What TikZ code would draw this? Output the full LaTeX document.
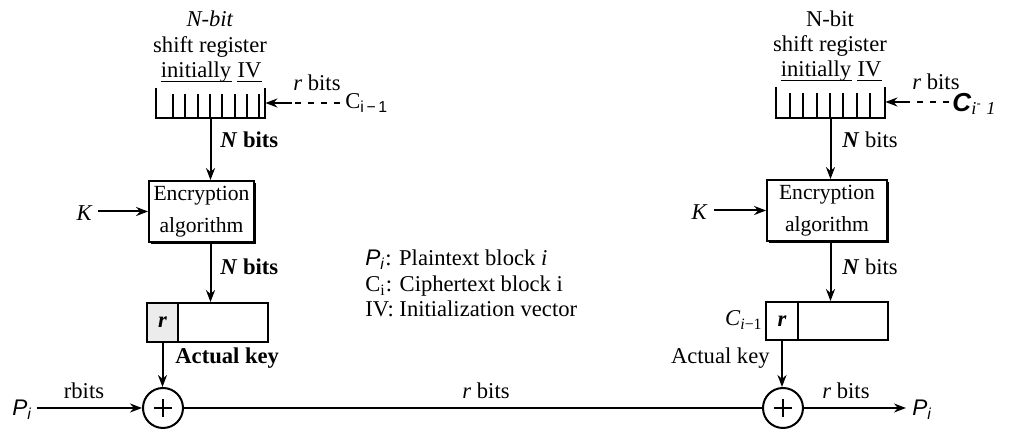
\documentclass[tikz,border=0pt]{standalone}
\usepackage{fontspec}
\setmainfont{Liberation Serif}
\setsansfont{Liberation Sans}
\usetikzlibrary{arrows.meta,shadows}
\begin{document}
\begin{tikzpicture}[x=0.5pt,y=-0.5pt,
  every node/.style={font=\fontsize{11.3}{13.5}\selectfont, inner sep=0pt},
  ln/.style={line width=1pt},
  ul/.style={line width=0.6pt},
  arr/.style={line width=1pt,-{Stealth[length=6pt,width=4.5pt]}},
  dsh/.style={line width=1pt,dash pattern=on 3pt off 3.5pt},
  regbox/.style={minimum width=54.5pt, minimum height=15pt},
  encbox/.style={draw,line width=0.9pt,fill=white,align=center,
    font=\fontsize{10.8}{16}\selectfont,
    drop shadow={shadow xshift=1pt,shadow yshift=-1pt,opacity=1,fill=black}},
  keybox/.style={draw,line width=0.9pt},
  xorc/.style={circle,draw,line width=1pt,minimum size=20pt},
]
\useasboundingbox (0,0) rectangle (1009,437);

% ---------------- left side (encryption) ----------------
\node[anchor=base] (tL1) at (210,27) {\textit{N-bit}};
\node[anchor=base] (tL2) at (210,53) {shift register};
\node[anchor=base west] (iniL) at (160.5,78) {initially};
\node[anchor=base west] (ivL) at ([xshift=2.8pt]iniL.base east) {IV};
\draw[ul] ([yshift=-1.6pt]iniL.base west) -- ([yshift=-1.6pt]iniL.base east);
\draw[ul] ([yshift=-1.6pt]ivL.base west) -- ([yshift=-1.6pt]ivL.base east);

\node[regbox] (regL) at (210.5,103) {};
\draw[ln] (regL.north west) -- (regL.south west) -- (regL.south east) -- (regL.north east);
\foreach \x in {173,185.3,197.6,209.9,222.2,234.5,246.8,259.1}
  \draw[ln] (\x,94) -- (\x,118);

\node[anchor=base west] (rbL) at (293,91) {\textit{r} bits};
\node[anchor=west] (cL) at (345,103) {C\textsubscript{\sffamily i\,−\,1}};
\coordinate (cLs) at (340,103);
\coordinate (cLm) at (292,103);
\draw[dsh] (cLs) -- (cLm);
\draw[arr] (cLm) -- (regL.east |- cLs);

\node[encbox, minimum width=52.5pt, minimum height=30.5pt] (encL) at (201.5,211.5) {Encryption\\algorithm};
\draw[arr] (regL.south) -- (regL.south |- encL.north);
\node[anchor=west] (nbL1) at (220,140) {\textbf{\textit{N} bits}};

\node[anchor=base east] (kL) at (93,221) {\textit{K}};
\draw[arr] ([xshift=2.5pt]kL.east |- encL.west) -- (encL.west);

\node[keybox, minimum width=60.5pt, minimum height=19.5pt] (keyL) at (207.5,322.5) {};
\node[keybox, fill=gray!15, minimum width=15.5pt, minimum height=19.5pt] (rL) at (162.5,322.5) {\textbf{\textit{r}}};
\draw[arr] (encL.south -| regL.south) -- (keyL.north -| regL.south);
\node[anchor=west] (nbL2) at (220,267) {\textbf{\textit{N} bits}};

\node[xorc] (xL) at (163,408) {};
\draw[line width=1pt] ([xshift=-4.5pt]xL.center) -- ([xshift=4.5pt]xL.center)
  ([yshift=-4.5pt]xL.center) -- ([yshift=4.5pt]xL.center);
\draw[arr] (rL.south) -- (rL.south |- xL.north);
\node[anchor=west] (akL) at (175,358) {\textbf{Actual key}};

\node[anchor=west] (pL) at (12,410) {\textsf{\textit{P}}\textsubscript{\textsf{\textit{i}}}};
\node[anchor=base] (rbL2) at (84,399) {rbits};
\draw[arr] ([xshift=2pt]pL.east |- xL.west) -- (xL.west);

% ---------------- legend ----------------
\node[anchor=base west] (lg1) at (365,266) {\textsf{\textit{P}}\textsubscript{\textsf{\textit{i}}}: Plaintext block \textit{i}};
\node[anchor=base west] (lg2) at (365,292) {C\textsubscript{i}: Ciphertext block i};
\node[anchor=base west] (lg3) at (365,317) {IV: Initialization vector};

% ---------------- right side (decryption) ----------------
\node[anchor=base] (tR1) at (830,27) {N-bit};
\node[anchor=base] (tR2) at (830,52) {shift register};
\node[anchor=base west] (iniR) at (780.5,77) {initially};
\node[anchor=base west] (ivR) at ([xshift=2.8pt]iniR.base east) {IV};
\draw[ul] ([yshift=-1.6pt]iniR.base west) -- ([yshift=-1.6pt]iniR.base east);
\draw[ul] ([yshift=-1.6pt]ivR.base west) -- ([yshift=-1.6pt]ivR.base east);

\node[regbox, minimum height=15.5pt] (regR) at (830.5,102.5) {};
\draw[ln] (regR.north west) -- (regR.south west) -- (regR.south east) -- (regR.north east);
\foreach \x in {790,803.3,816.7,830,843.3,856.7,870}
  \draw[ln] (\x,93) -- (\x,118);

\node[anchor=base west] (rbR) at (912,90) {\textit{r} bits};
\node[anchor=west] (cR) at (952,104) {\fontsize{13}{15}\selectfont\textsf{\textbf{\textit{C}}}\textsubscript{\textit{i}\textsuperscript{-} \textit{1}}};
\coordinate (cRs) at (949,102);
\coordinate (cRm) at (906,102);
\draw[dsh] (cRs) -- (cRm);
\draw[arr] (cRm) -- (regR.east |- cRs);

\node[encbox, minimum width=60pt, minimum height=30.5pt] (encR) at (827,210.5) {Encryption\\algorithm};
\draw[arr] (regR.south) -- (regR.south |- encR.north);
\node[anchor=west] (nbR1) at (842,140) {\textbf{\textit{N}} bits};

\node[anchor=base east] (kR) at (708,220) {\textit{K}};
\draw[arr] ([xshift=3pt]kR.east |- encR.west) -- (encR.west);

\node[keybox, minimum width=61pt, minimum height=19pt] (keyR) at (827,321) {};
\node[keybox, minimum width=16pt, minimum height=19pt] (rR) at (782,321) {\textbf{\textit{r}}};
\draw[arr] (encR.south -| regR.south) -- (keyR.north -| regR.south);
\node[anchor=west] (nbR2) at (842,267) {\textbf{\textit{N}} bits};
\node[anchor=base east] (cR2) at (763,326) {\textit{C}\textsubscript{\textit{i}−1}};

\node[xorc] (xR) at (783,408) {};
\draw[line width=1pt] ([xshift=-4.5pt]xR.center) -- ([xshift=4.5pt]xR.center)
  ([yshift=-4.5pt]xR.center) -- ([yshift=4.5pt]xR.center);
\draw[arr] (rR.south) -- (rR.south |- xR.north);
\node[anchor=east] (akR) at (770,358) {Actual key};

\node[anchor=west] (pR) at (912,410) {\textsf{\textit{P}}\textsubscript{\textsf{\textit{i}}}};
\draw[arr] (xR.east) -- ([xshift=-3pt]pR.west |- xR.east);
\node[anchor=base west] (rbR2) at (822,399) {\textit{r} bits};

% ---------------- middle connector ----------------
\draw[ln] (xL.east) -- (xR.west);
\node[anchor=base] (rbM) at (486,399) {\textit{r} bits};
\end{tikzpicture}
\end{document}
